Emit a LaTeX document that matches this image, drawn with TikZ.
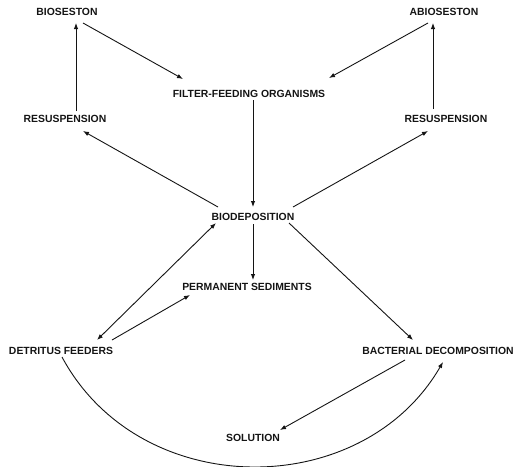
\documentclass[tikz,border=0pt]{standalone}
\usepackage{fontspec}
\setmainfont{Liberation Sans}
\usetikzlibrary{arrows.meta,calc}
\definecolor{ink}{HTML}{141414}

\begin{document}
\begin{tikzpicture}[x=1pt, y=-1pt, >={Latex[length=6pt,width=4.5pt]},
    word/.style={font=\fontsize{10.4}{12}\selectfont\bfseries, text=ink,
        inner sep=0pt, text height=7.5pt, text depth=0pt},
    flow/.style={draw=ink, line width=0.9pt, ->}]
    \useasboundingbox (0,0) rectangle (522,466);

    % compartments
    \foreach \n / \x / \y / \t in {bioL/67/12/BIOSESTON, abio/444/12/ABIOSESTON,
            filter/249/94/FILTER-FEEDING ORGANISMS, resL/65/119/RESUSPENSION,
            resR/446/119/RESUSPENSION, biodep/253/217/BIODEPOSITION,
            perm/247/287/PERMANENT SEDIMENTS, det/61/351/DETRITUS FEEDERS,
            bact/438/351/BACTERIAL DECOMPOSITION, sol/253/438/SOLUTION}
        \node[word] (\n) at (\x, \y) {\t};

    % seston and resuspension
    \draw[flow] ($(resL)+(11,-8)$) -- ($(bioL)+(9,11)$);
    \draw[flow] ($(resR)+(-13,-10)$) -- ($(abio)+(-11,11)$);
    \draw[flow] ($(bioL)+(16,11)$) -- ($(filter)+(-66,-15)$);
    \draw[flow] ($(abio)+(-16,11)$) -- ($(filter)+(80,-16)$);

    % biodeposition
    \draw[flow] ($(filter)+(4,6)$) -- ($(biodep)+(0,-10)$);
    \draw[flow] ($(biodep)+(-35,-10)$) -- ($(resL)+(18,12)$);
    \draw[flow] ($(biodep)+(40,-10)$) -- ($(resR)+(-18,12)$);
    \draw[flow] ($(biodep)+(0,7)$) -- ($(perm)+(6,-7)$);
    \draw[flow, <->] ($(det)+(36,-11)$) -- ($(biodep)+(-37,6)$);
    \draw[flow] ($(det)+(51,-11)$) -- ($(perm)+(-57,8)$);
    \draw[flow] ($(biodep)+(36,6)$) -- ($(bact)+(-25,-11)$);

    % decomposition
    \draw[flow] ($(bact)+(-33,9)$) -- ($(sol)+(27,-8)$);
    \draw[flow] ($(det)+(1,6)$) .. controls (140,502) and (362,502) .. ($(bact)+(5,11)$);
\end{tikzpicture}
\end{document}
